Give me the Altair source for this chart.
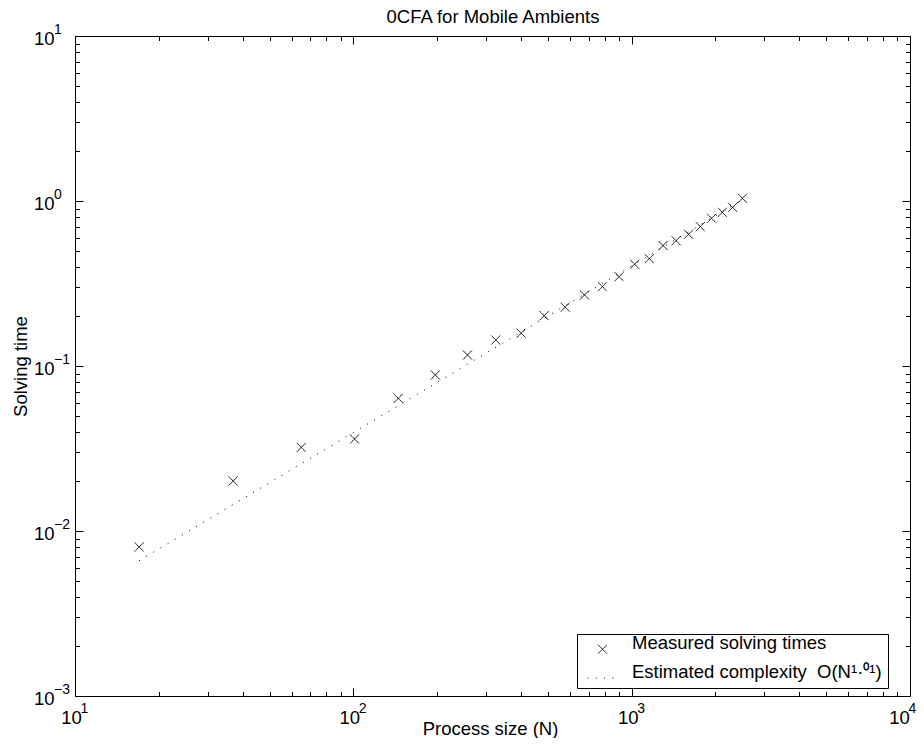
import altair as alt
import pandas as pd

# ---- data ----
N = [17, 37, 65, 101, 145, 197, 257, 325, 401, 485, 577, 677, 785, 901,
     1025, 1157, 1297, 1445, 1601, 1765, 1937, 2117, 2305, 2501]
T = [0.0080, 0.0201, 0.0321, 0.0361, 0.0637, 0.0882, 0.1166, 0.1437, 0.158,
     0.2018, 0.2272, 0.2694, 0.3027, 0.3478, 0.4136, 0.4475, 0.537, 0.5746,
     0.6284, 0.699, 0.785, 0.854, 0.915, 1.038]
FIT_N = [17, 2501]
FIT_T = [0.0066, 1.02]

X_DECADES = [10, 100, 1000, 10000]
X_EXP = ["1", "2", "3", "4"]
Y_DECADES = [0.001, 0.01, 0.1, 1, 10]
Y_EXP = ["\u22123", "\u22122", "\u22121", "0", "1"]
MULTS = [2, 3, 4, 5, 6, 7, 8, 9]
X_MINOR = [m * d for d in [10, 100, 1000] for m in MULTS]
Y_MINOR = [m * d for d in [0.001, 0.01, 0.1, 1] for m in MULTS]
X_EDGES = [10, 10000]
Y_EDGES = [0.001, 10]

TITLE = "0CFA for Mobile Ambients"
S1 = "Measured solving times"
S2 = "Estimated complexity\u00a0\u00a0O(N\u00b9\u00b7\u2070\u00b9)"

FONT = "Liberation Sans"
FS = 18.5
EFS = 14
MAJ, MIN = 8, 4.5

xs = alt.Scale(type="log", domain=X_EDGES, nice=False)
ys = alt.Scale(type="log", domain=Y_EDGES, nice=False)

meas = pd.DataFrame({"N": N, "t": T, "series": S1})
fit = pd.DataFrame({"N": FIT_N, "t": FIT_T, "series": S2})

XPATH = "M-1,-1L1,1M1,-1L-1,1"

leg = alt.Legend(title=None, orient="none", legendX=502, legendY=598,
                 strokeColor="black", fillColor="white", padding=6,
                 labelFont=FONT, labelFontSize=FS, labelColor="black",
                 labelLimit=0, labelOffset=14, rowPadding=6.5,
                 symbolStrokeColor="black", symbolStrokeWidth=1,
                 symbolOffset=4, cornerRadius=0, labelBaseline="alphabetic")

# axes that carry the decade labels, the titles and the inward major ticks
x_label_axis = alt.Axis(orient="bottom", values=X_DECADES, labelExpr="'10'",
                        labelFont=FONT, labelFontSize=FS, labelColor="black",
                        labelBaseline="alphabetic", labelAlign="center",
                        labelPadding=27,
                        labelOffset={"condition": {"test": "datum.value >= 10000",
                                                   "value": -11}, "value": -4},
                        ticks=True, tickSize=MAJ, tickColor="black",
                        tickWidth=1, offset=-MAJ, domain=False, grid=False,
                        labelFlush=False, labelOverlap=False,
                        title="Process size (N)", titleFont=FONT,
                        titleFontSize=FS, titleFontWeight="normal",
                        titleColor="black", titleBaseline="alphabetic",
                        titleX=415, titleY=46)
y_label_axis = alt.Axis(orient="left", values=Y_DECADES, labelExpr="'10'",
                        labelFont=FONT, labelFontSize=FS, labelColor="black",
                        labelBaseline="alphabetic", labelAlign="right",
                        labelPadding=21, labelOffset=8,
                        ticks=True, tickSize=MAJ, tickColor="black",
                        tickWidth=1, offset=-MAJ, domain=False, grid=False,
                        labelFlush=False, labelOverlap=False,
                        title="Solving time", titleFont=FONT,
                        titleFontSize=FS, titleFontWeight="normal",
                        titleColor="black", titleBaseline="alphabetic",
                        titleAngle=270, titleAlign="center",
                        titleX=-57, titleY=330)
# top axis: inward major ticks, and it carries the chart title
x_top_axis = alt.Axis(orient="top", values=X_DECADES, labels=False,
                      domain=False, grid=False, ticks=True, tickSize=MAJ,
                      tickColor="black", tickWidth=1, offset=-MAJ,
                      title=TITLE, titleFont=FONT, titleFontSize=FS,
                      titleFontWeight="normal", titleColor="black",
                      titleBaseline="alphabetic", titleAlign="center",
                      titleX=417.5, titleY=-21.5)


def tick_axis(orient, values, length):
    return alt.Axis(orient=orient, values=values, labels=False, title=None,
                    domain=False, grid=False, ticks=True, tickSize=length,
                    tickColor="black", tickWidth=1, offset=-length)


line = alt.Chart(fit).mark_line(color="black", strokeWidth=1,
                                strokeDash=[1, 7.3]).encode(
    x=alt.X("N:Q", scale=xs, axis=x_label_axis),
    y=alt.Y("t:Q", scale=ys, axis=y_label_axis),
)

points = alt.Chart(meas).mark_point(filled=False, color="black",
                                    strokeWidth=1, opacity=1).encode(
    x=alt.X("N:Q", scale=xs, axis=x_top_axis),
    y=alt.Y("t:Q", scale=ys, axis=tick_axis("right", Y_DECADES, MAJ)),
    shape=alt.Shape("series:N", scale=alt.Scale(domain=[S1, S2],
                    range=[XPATH, "stroke"]), legend=leg),
    size=alt.Size("series:N", scale=alt.Scale(type="point", padding=0,
                  domain=[S1, S2], range=[81, 900]), legend=leg),
    strokeDash=alt.StrokeDash("series:N", scale=alt.Scale(domain=[S1, S2],
                              range=[[1, 0], [1, 7.3]]), legend=leg),
)

xexp = alt.Chart(pd.DataFrame({"v": X_DECADES, "e": X_EXP})).mark_text(
    align="left", baseline="alphabetic",
    dx=alt.expr("datum.v >= 10000 ? -1.5 : 5.5"), dy=17, fontSize=EFS,
    font=FONT, color="black").encode(
    x=alt.X("v:Q", scale=xs, axis=tick_axis("bottom", X_MINOR, MIN)),
    y=alt.YDatum(Y_EDGES[0], type="quantitative",
                 axis=tick_axis("left", Y_MINOR, MIN)),
    text="e:N")

yexp = alt.Chart(pd.DataFrame({"v": Y_DECADES, "e": Y_EXP})).mark_text(
    align="left", baseline="alphabetic", dx=-21, dy=-2.5, fontSize=EFS,
    font=FONT, color="black").encode(
    y=alt.Y("v:Q", scale=ys, axis=tick_axis("right", Y_MINOR, MIN)),
    x=alt.XDatum(X_EDGES[0], type="quantitative",
                 axis=tick_axis("top", X_MINOR, MIN)),
    text="e:N")

chart = alt.layer(line, points, xexp, yexp).resolve_axis(
    x="independent", y="independent"
).properties(
    width=835, height=660,
    autosize=alt.AutoSizeParams(type="none"),
    padding={"left": 67, "top": 28, "right": 6, "bottom": 42},
    background="white",
).configure_view(stroke="black", strokeWidth=1)

chart.save("out.html", embed_options={"renderer": "svg", "actions": False})
